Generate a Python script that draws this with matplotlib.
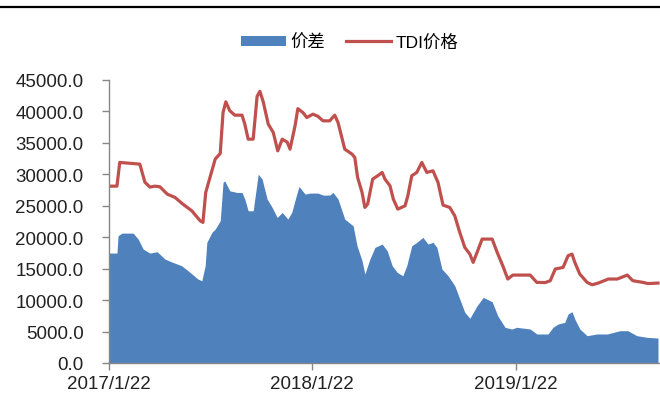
import matplotlib
matplotlib.use("Agg")
import matplotlib.pyplot as plt
import matplotlib.dates as mdates
import numpy as np
import pandas as pd
from matplotlib.lines import Line2D
from matplotlib.patches import Patch

# TDI price series
tdi_dates = [
    "2017-01-22", "2017-02-06", "2017-02-11", "2017-03-19", "2017-03-28", "2017-04-06",
    "2017-04-15", "2017-04-24", "2017-05-07", "2017-05-21", "2017-06-04", "2017-06-20",
    "2017-07-05", "2017-07-10", "2017-07-15", "2017-07-23", "2017-08-01", "2017-08-10",
    "2017-08-15", "2017-08-20", "2017-08-27", "2017-09-05", "2017-09-18", "2017-09-23",
    "2017-09-29", "2017-10-08", "2017-10-15", "2017-10-20", "2017-10-26", "2017-11-04",
    "2017-11-13", "2017-11-21", "2017-11-29", "2017-12-08", "2017-12-13", "2017-12-22",
    "2017-12-27", "2018-01-05", "2018-01-12", "2018-01-23", "2018-02-01", "2018-02-10",
    "2018-02-22", "2018-03-03", "2018-03-09", "2018-03-21", "2018-04-03", "2018-04-08",
    "2018-04-13", "2018-04-21", "2018-04-26", "2018-05-01", "2018-05-10", "2018-05-19",
    "2018-05-27", "2018-06-01", "2018-06-10", "2018-06-16", "2018-06-24", "2018-07-07",
    "2018-07-12", "2018-07-19", "2018-07-28", "2018-08-06", "2018-08-15", "2018-08-26",
    "2018-09-04", "2018-09-13", "2018-09-25", "2018-10-04", "2018-10-13", "2018-10-22",
    "2018-10-31", "2018-11-06", "2018-11-13", "2018-11-22", "2018-12-10", "2018-12-19",
    "2018-12-29", "2019-01-07", "2019-01-16", "2019-02-16", "2019-02-28", "2019-03-15",
    "2019-03-24", "2019-04-02", "2019-04-16", "2019-04-25", "2019-05-02", "2019-05-07",
    "2019-05-16", "2019-05-29", "2019-06-07", "2019-06-18", "2019-07-06", "2019-07-22",
    "2019-08-09", "2019-08-19", "2019-09-06", "2019-09-15", "2019-10-03",
]
tdi_price = [
    28100, 28100, 31870, 31600, 28740, 27950,
    28100, 28000, 26840, 26310, 25250, 24190,
    22600, 22340, 27100, 29600, 32400, 33300,
    39800, 41500, 40100, 39380, 39380, 37950,
    35570, 35570, 42370, 43170, 41500, 37950,
    36630, 33710, 35570, 35090, 33980, 37690,
    40420, 39800, 39010, 39540, 39200, 38480,
    38480, 39380, 38210, 33980, 33190, 32660,
    29490, 27100, 24720, 25250, 29220, 29750,
    30280, 29220, 28160, 26040, 24450, 24980,
    26570, 29750, 30280, 31870, 30280, 30540,
    28700, 25090, 24720, 23390, 20750, 18360,
    17310, 15990, 17580, 19690, 19690, 17580,
    15450, 13340, 13970, 13970, 12810, 12780,
    13070, 14930, 15190, 17040, 17310, 15990,
    14130, 12810, 12430, 12700, 13340, 13340,
    13970, 13070, 12810, 12620, 12700,
]

# Price spread series
spread_dates = [
    "2017-01-22", "2017-02-06", "2017-02-08", "2017-02-15", "2017-03-07", "2017-03-16",
    "2017-03-25", "2017-04-06", "2017-04-19", "2017-05-03", "2017-05-17", "2017-06-02",
    "2017-06-17", "2017-07-01", "2017-07-08", "2017-07-14", "2017-07-17", "2017-07-26",
    "2017-08-01", "2017-08-10", "2017-08-15", "2017-08-18", "2017-08-27", "2017-09-09",
    "2017-09-18", "2017-09-23", "2017-09-29", "2017-10-08", "2017-10-17", "2017-10-24",
    "2017-11-02", "2017-11-11", "2017-11-20", "2017-11-29", "2017-12-09", "2017-12-16",
    "2017-12-25", "2017-12-29", "2018-01-09", "2018-01-18", "2018-02-01", "2018-02-10",
    "2018-02-22", "2018-02-28", "2018-03-09", "2018-03-21", "2018-04-05", "2018-04-12",
    "2018-04-21", "2018-04-26", "2018-05-05", "2018-05-14", "2018-05-27", "2018-06-05",
    "2018-06-14", "2018-06-23", "2018-07-03", "2018-07-10", "2018-07-19", "2018-07-28",
    "2018-08-08", "2018-08-17", "2018-08-26", "2018-09-02", "2018-09-11", "2018-09-22",
    "2018-10-04", "2018-10-13", "2018-10-22", "2018-10-31", "2018-11-13", "2018-11-24",
    "2018-12-10", "2018-12-20", "2019-01-02", "2019-01-14", "2019-01-23", "2019-02-16",
    "2019-02-28", "2019-03-20", "2019-03-29", "2019-04-07", "2019-04-19", "2019-04-25",
    "2019-05-02", "2019-05-07", "2019-05-16", "2019-05-29", "2019-06-16", "2019-07-04",
    "2019-07-27", "2019-08-10", "2019-08-26", "2019-09-13", "2019-10-03",
]
spread = [
    17470, 17470, 20220, 20640, 20640, 19690,
    18100, 17470, 17680, 16510, 15990, 15450,
    14390, 13340, 13070, 15450, 19170, 20750,
    21280, 22600, 28700, 28950, 27360, 27100,
    27100, 26040, 24190, 24190, 30010, 29220,
    26040, 24720, 23130, 23920, 22870, 23920,
    26840, 28050, 26840, 27000, 27000, 26680,
    26680, 27100, 26040, 22870, 21800, 18630,
    16240, 14130, 16510, 18370, 18900, 17840,
    15450, 14390, 13860, 15450, 18630, 19170,
    19960, 18900, 19170, 18370, 14930, 13860,
    12280, 10160, 8050, 7100, 9100, 10430,
    9730, 7510, 5670, 5400, 5670, 5400,
    4610, 4610, 5670, 6190, 6460, 7780,
    8150, 6990, 5400, 4340, 4610, 4610,
    5130, 5130, 4340, 4080, 3960,
]

tick_dates = ["2017-01-22", "2018-01-22", "2019-01-22"]
tick_labels = ["2017/1/22", "2018/1/22", "2019/1/22"]
y_ticks = [0, 5000, 10000, 15000, 20000, 25000, 30000, 35000, 40000, 45000]

legend_labels = ["价差", "TDI价格"]

BLUE = "#4F81BD"
RED = "#C0504D"
AXIS_GREY = "#868686"

plt.rcParams["font.family"] = ["Liberation Sans", "Noto Sans CJK SC", "DejaVu Sans"]

fig = plt.figure(figsize=(6.6, 4.14), dpi=100)
ax = fig.add_axes([0.1645, 0.1208, 0.8355, 0.684])

td = pd.to_datetime(tdi_dates)
sd = pd.to_datetime(spread_dates)

ax.fill_between(sd, spread, 0, color=BLUE, lw=0, zorder=2)
ax.plot(td, tdi_price, color=RED, lw=2.3, solid_joinstyle="round", zorder=3)

start = pd.Timestamp("2017-01-22")
ax.set_xlim(start, start + pd.Timedelta(days=987.6))
ax.set_ylim(0, 45000)

ax.set_yticks(y_ticks)
ax.set_yticklabels([f"{v:.1f}" for v in y_ticks])
ax.set_xticks(pd.to_datetime(tick_dates))
ax.set_xticklabels(tick_labels)

for s in ["top", "right"]:
    ax.spines[s].set_visible(False)
for s in ["left", "bottom"]:
    ax.spines[s].set_color(AXIS_GREY)
    ax.spines[s].set_linewidth(1.0)
    ax.spines[s].set_zorder(4)

ax.tick_params(axis="y", direction="out", length=5, width=1, color=AXIS_GREY,
               labelsize=13.5, pad=13, labelcolor="#222222")
ax.tick_params(axis="x", direction="out", length=5, width=1, color=AXIS_GREY,
               labelsize=13.5, pad=4, labelcolor="#222222")

handles = [Patch(facecolor=BLUE, edgecolor="none"),
           Line2D([0], [0], color=RED, lw=2.3)]
fig.legend(handles, legend_labels, loc="center", bbox_to_anchor=(0.53, 1 - 43 / 414),
           ncol=2, frameon=False, fontsize=12.5, handlelength=2.6, handleheight=0.55,
           handletextpad=0.25, columnspacing=1.2)

# Rule across the top of the figure
fig.add_artist(Line2D([0, 1], [1 - 8.4 / 414] * 2, color="black", lw=1.6,
                      transform=fig.transFigure))

fig.savefig("out.png", dpi=100, facecolor="white")
